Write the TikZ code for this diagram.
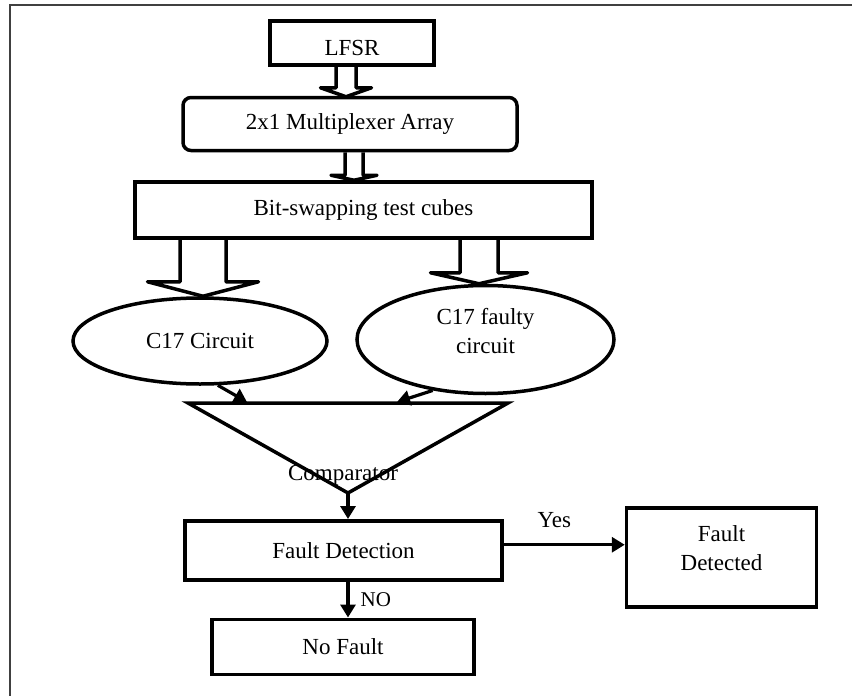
\documentclass[tikz,border=0pt]{standalone}
\usepackage{fontspec}
\setmainfont{Liberation Serif}
\usetikzlibrary{positioning}
\usetikzlibrary{calc}
\usetikzlibrary{shapes.geometric}
\usetikzlibrary{arrows.meta}

\begin{document}
\begin{tikzpicture}
	[x=1pt,y=-1pt,
	 every node/.style={font=\fontsize{23}{29}\selectfont},
	 box/.style={rectangle,draw,line width=3.5pt,inner sep=0pt,align=center},
	 blob/.style={ellipse,draw,line width=3.5pt,inner sep=0pt,align=center},
	 fat/.style={line width=3.5pt,line join=round},
	 connect/.style={line width=3.2pt,-{Triangle[width=15pt,length=13pt]}},
	 lbl/.style={inner sep=1pt},
	 frame/.style={line width=2.5pt,black!75}]
	\useasboundingbox (0,0) rectangle (852,696);
	\draw[frame] (10,696) -- (10,5) -- (852,5);

	\node (lfsr) [box,minimum width=164pt,minimum height=44pt,text height=26pt] at (352,43) {LFSR};
	\node (mux) [box,rounded corners=8pt,minimum width=334pt,minimum height=53pt,below=29pt of lfsr,xshift=-2pt] {2x1 Multiplexer Array};
	\node (bit) [box,minimum width=457pt,minimum height=56pt,below=28pt of mux,xshift=13.5pt] {Bit-swapping test cubes};
	\node (c17) [blob,minimum width=254pt,minimum height=86pt,below=56.5pt of bit,xshift=-163.5pt] {C17 Circuit};
	\node (faulty) [blob,minimum width=257pt,minimum height=108pt,text height=28pt,below=44pt of bit,xshift=122pt] {C17 faulty\\circuit};

	% wide arrows
	\draw[fat] ([xshift=-16pt]lfsr.south) -- ++(0,21) -- ++(-15.5,0) -- ++(25.5,9) -- ++(25.5,-9) -- ++(-15.5,0) -- ++(0,-21);
	\draw[fat] ([xshift=-5pt]mux.south) -- ++(0,23) -- ++(-14,0) -- ++(23,5) -- ++(23,-5) -- ++(-14,0) -- ++(0,-23);
	\draw[fat] ([xshift=-183.5pt]bit.south) -- ++(0,42) -- ++(-32.5,0) -- ++(55.5,14.5) -- ++(55.5,-14.5) -- ++(-32.5,0) -- ++(0,-42);
	\draw[fat] ([xshift=96.5pt]bit.south) -- ++(0,33) -- ++(-29.5,0) -- ++(48.5,11) -- ++(48.5,-11) -- ++(-29.5,0) -- ++(0,-33);

	% comparator
	\coordinate (cmpL) at (188,403);
	\coordinate (cmpR) at (508,403);
	\coordinate (cmpA) at (348,493);
	\coordinate (cin1) at (247,402);
	\coordinate (cin2) at (397,402);
	\draw[fat,line join=miter] (cmpL) -- (cmpR) -- (cmpA) -- cycle;
	\node (cmplbl) [lbl] at ($(cmpA)+(-5,-18)$) {Comparator};
	\draw[connect] (c17.-68) -- (cin1);
	\draw[connect] (faulty.-136) -- (cin2);

	\node (fd) [box,minimum width=317pt,minimum height=59pt,below=26pt of cmpA,xshift=-4.5pt] {Fault Detection};
	\node (nf) [box,minimum width=262pt,minimum height=55pt,below=36pt of fd,xshift=-0.5pt] {No Fault};
	\node (fdt) [box,minimum width=190pt,minimum height=99pt,text depth=18pt,right=121pt of fd,yshift=-7pt] {Fault\\Detected};

	\draw[connect] (cmpA) -- (cmpA |- fd.north);
	\draw[connect] (cmpA |- fd.south) -- (cmpA |- nf.north)
		node [lbl,midway,right=10pt,font=\fontsize{21}{24}\selectfont] {NO};
	\coordinate (yesS) at ([yshift=5.5pt]fd.east);
	\draw[connect] (yesS) -- (yesS -| fdt.west)
		node [lbl,midway,above=14pt,xshift=-10pt] {Yes};
\end{tikzpicture}
\end{document}
